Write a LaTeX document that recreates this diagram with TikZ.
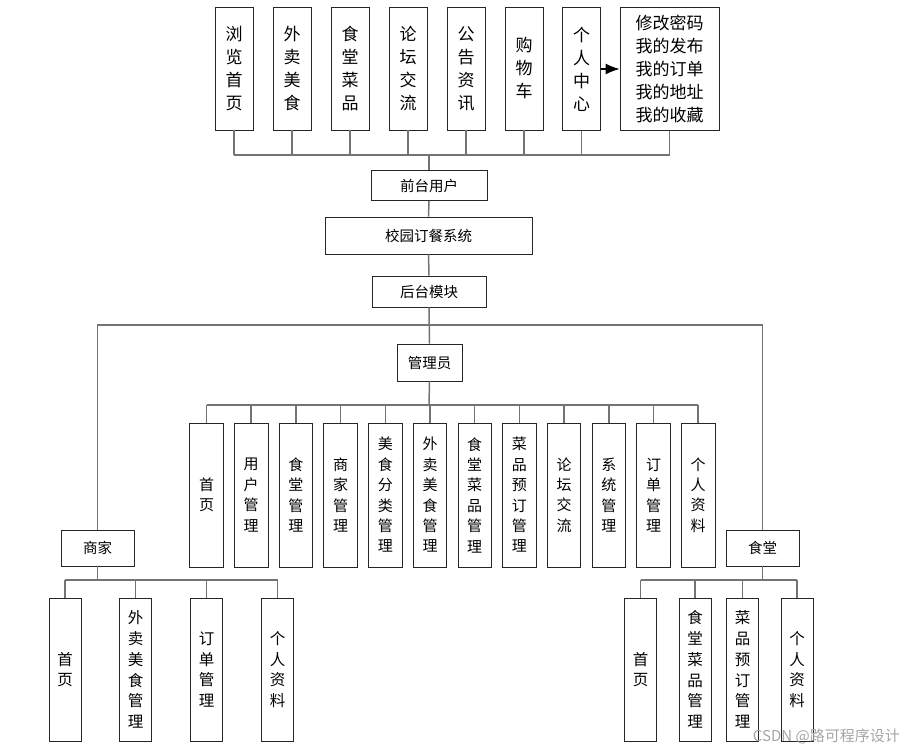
\documentclass[tikz,border=0pt]{standalone}
\usepackage{fontspec}
\setmainfont{Noto Sans CJK SC}
\usetikzlibrary{arrows.meta}
\tikzset{
  box/.style={draw=black!85, line width=0.9pt, fill=white, inner sep=0pt, align=center},
  topbox/.style={box, minimum width=38pt, minimum height=123pt, font=\fontsize{17}{23}\selectfont},
  midbox/.style={box, minimum height=30pt, font=\fontsize{14.5}{16}\selectfont},
  adbox/.style={box, minimum width=33.5pt, minimum height=144pt, font=\fontsize{15}{20.4}\selectfont},
  subbox/.style={box, minimum width=32pt, minimum height=143pt, font=\fontsize{15.5}{20.7}\selectfont},
  conn/.style={draw=black!55, line width=1.5pt},
  arr/.style={draw=black, line width=1.2pt, -{Latex[length=14pt,width=11pt]}}
}
\begin{document}
\begin{tikzpicture}[x=1pt,y=-1pt]
\useasboundingbox (0,0) rectangle (904,751);
% top row
\node[topbox] (t1) at (234,68.5) {浏\\览\\首\\页};
\node[topbox] (t2) at (292,68.5) {外\\卖\\美\\食};
\node[topbox] (t3) at (350,68.5) {食\\堂\\菜\\品};
\node[topbox] (t4) at (408,68.5) {论\\坛\\交\\流};
\node[topbox] (t5) at (466,68.5) {公\\告\\资\\讯};
\node[topbox] (t6) at (524,68.5) {购\\物\\车};
\node[topbox] (t7) at (581.5,69) {个\\人\\中\\心};
\node[topbox, minimum width=99pt] (t8) at (669.5,69) {修改密码\\我的发布\\我的订单\\我的地址\\我的收藏};
\draw[arr] (t7.east) -- (t8.west);
% middle
\node[midbox, minimum width=116pt] (fu) at (429,185.5) {前台用户};
\node[midbox, minimum width=207pt, minimum height=37pt] (sys) at (428.5,235.5) {校园订餐系统};
\node[midbox, minimum width=114pt, minimum height=31pt] (bk) at (429,291.5) {后台模块};
\node[midbox, minimum width=65pt, minimum height=37pt] (ad) at (429.5,362.5) {管理员};
\coordinate (topbus) at (429,155);
\foreach \i in {1,...,8} {\draw[conn] (t\i.south) -- (t\i.south |- topbus);}
\draw[conn] (t1.south |- topbus) -- (t8.south |- topbus);
\draw[conn] (topbus) -- (fu.north);
\draw[conn] (fu.south) -- (sys.north);
\draw[conn] (sys.south) -- (bk.north);
\draw[conn] (bk.south) -- (ad.north);
% admin row
\foreach \t [count=\k from 0] in {首\\页, 用\\户\\管\\理, 食\\堂\\管\\理, 商\\家\\管\\理, 美\\食\\分\\类\\管\\理, 外\\卖\\美\\食\\管\\理, 食\\堂\\菜\\品\\管\\理, 菜\\品\\预\\订\\管\\理, 论\\坛\\交\\流, 系\\统\\管\\理, 订\\单\\管\\理, 个\\人\\资\\料} {
  \node[adbox] (a\k) at ({206.5+44.7*\k},495) {\t};
}
\coordinate (abus) at (429,405);
\foreach \k in {0,...,11} {\draw[conn] (a\k.north) -- (a\k.north |- abus);}
\draw[conn] (a0.north |- abus) -- (a11.north |- abus);
\draw[conn] (ad.south) -- (abus);
% side managers
\node[midbox, minimum width=73pt, minimum height=36pt] (sj) at (97.5,548) {商家};
\node[midbox, minimum width=73pt, minimum height=36pt] (st) at (762.5,548) {食堂};
\coordinate (hl) at (429,325);
\draw[conn] (sj.north) -- (sj.north |- hl) -- (st.north |- hl) -- (st.north);
% merchant children
\node[subbox] (s1) at (65,669.5) {首\\页};
\node[subbox] (s2) at (135.5,669.5) {外\\卖\\美\\食\\管\\理};
\node[subbox] (s3) at (206.5,669.5) {订\\单\\管\\理};
\node[subbox] (s4) at (277.5,669.5) {个\\人\\资\\料};
\coordinate (sbus) at (97.5,580);
\foreach \i in {1,...,4} {\draw[conn] (s\i.north) -- (s\i.north |- sbus);}
\draw[conn] (s1.north |- sbus) -- (s4.north |- sbus);
\draw[conn] (sj.south) -- (sbus);
% canteen children
\node[subbox] (c1) at (640.5,669.5) {首\\页};
\node[subbox] (c2) at (695,669.5) {食\\堂\\菜\\品\\管\\理};
\node[subbox] (c3) at (742.5,669.5) {菜\\品\\预\\订\\管\\理};
\node[subbox] (c4) at (797,669.5) {个\\人\\资\\料};
\coordinate (cbus) at (762.5,580);
\foreach \i in {1,...,4} {\draw[conn] (c\i.north) -- (c\i.north |- cbus);}
\draw[conn] (c1.north |- cbus) -- (c4.north |- cbus);
\draw[conn] (st.south) -- (cbus);
% watermark
\node[anchor=east, text=black!35, font=\fontsize{15}{16}\selectfont, inner sep=0pt] (wm) at (900,736) {CSDN @路可程序设计};
\end{tikzpicture}
\end{document}
